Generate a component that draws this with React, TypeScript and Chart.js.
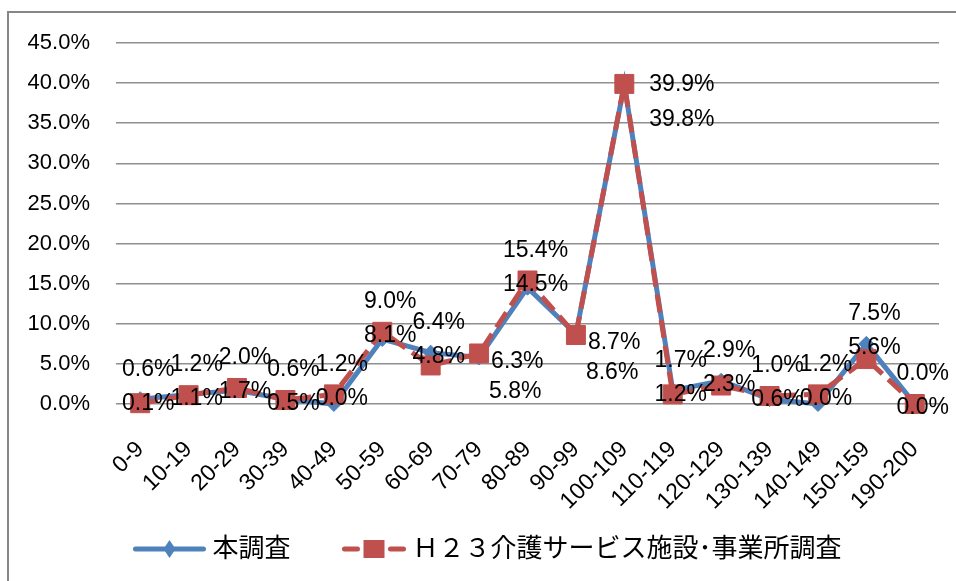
import { useEffect, useRef } from 'react';
import { Chart, registerables } from 'chart.js';

Chart.register(...registerables);

const categories = [
  '0-9', '10-19', '20-29', '30-39', '40-49', '50-59', '60-69', '70-79', '80-89',
  '90-99', '100-109', '110-119', '120-129', '130-139', '140-149', '150-159', '190-200',
];
const surveyValues = [0.6, 1.2, 1.7, 0.6, 0.0, 8.1, 6.4, 5.8, 14.5, 8.7, 39.8, 1.7, 2.9, 0.6, 0.0, 7.5, 0.0];
const h23Values = [0.1, 1.1, 2.0, 0.5, 1.2, 9.0, 4.8, 6.3, 15.4, 8.6, 39.9, 1.2, 2.3, 1.0, 1.2, 5.6, 0.0];
const yTickStep = 5;
const yMax = 45;
const seriesNames = ['本調査', 'Ｈ２３介護サービス施設･事業所調査'];

const BLUE = '#4F81BD';
const RED = '#C0504D';
const FONT = '"Liberation Sans", Arial, sans-serif';
const CJK_FONT = '"Liberation Sans", "Noto Sans CJK JP", sans-serif';

const W = 947;
const H = 568;

const fmt = (v: number) => v.toFixed(1) + '%';

const pairLabelPlugin = {
  id: 'pairLabels',
  afterDatasetsDraw(chart: any) {
    const { ctx } = chart;
    const x = chart.scales.x;
    const y = chart.scales.y;
    ctx.save();
    ctx.font = `23px ${FONT}`;
    ctx.fillStyle = '#000';
    ctx.textBaseline = 'middle';
    const hiOf = (i: number) =>
      i < 0 || i >= categories.length ? 0 : Math.max(surveyValues[i], h23Values[i]);
    categories.forEach((_, i) => {
      const a = surveyValues[i];
      const b = h23Values[i];
      const hi = Math.max(a, b);
      const lo = Math.min(a, b);
      const px = x.getPixelForValue(i);
      const yHi = y.getPixelForValue(hi);
      const prevHi = hiOf(i - 1);
      const nextHi = hiOf(i + 1);
      const peak = hi - prevHi > 10 && hi - nextHi > 10;
      const valley = hi >= 5 && hi < prevHi && hi < nextHi;
      if (peak) {
        ctx.textAlign = 'left';
        ctx.fillText(fmt(hi), px + 25, yHi + 1);
        ctx.fillText(fmt(lo), px + 25, yHi + 36);
      } else if (valley) {
        ctx.textAlign = 'left';
        ctx.fillText(fmt(hi), px + 12, yHi + 8);
        ctx.fillText(fmt(lo), px + 10, yHi + 38);
      } else {
        ctx.textAlign = 'center';
        const upper = yHi - 30;
        ctx.fillText(fmt(hi), px + 8, upper);
        ctx.fillText(fmt(lo), px + 8, upper + 34);
      }
    });
    ctx.restore();
  },
};

const legendPlugin = {
  id: 'lineLegend',
  afterDraw(chart: any) {
    const { ctx, width, height } = chart;
    ctx.save();
    ctx.font = `26px ${CJK_FONT}`;
    ctx.textBaseline = 'middle';
    ctx.textAlign = 'left';
    const w1 = ctx.measureText(seriesNames[0]).width;
    const w2 = ctx.measureText(seriesNames[1]).width;
    const sym1 = 72;
    const sym2 = 63;
    const gapText = 7;
    const gapItem = 52;
    const total = sym1 + gapText + w1 + gapItem + sym2 + gapText + w2;
    const x0 = width / 2 + 5 - total / 2;
    const cy = height - 32;

    // blue symbol
    ctx.strokeStyle = BLUE;
    ctx.fillStyle = BLUE;
    ctx.lineWidth = 5;
    ctx.lineCap = 'round';
    ctx.beginPath();
    ctx.moveTo(x0 + 2, cy);
    ctx.lineTo(x0 + sym1 - 2, cy);
    ctx.stroke();
    const cx1 = x0 + sym1 / 2;
    ctx.beginPath();
    ctx.moveTo(cx1 - 6, cy);
    ctx.lineTo(cx1, cy - 9);
    ctx.lineTo(cx1 + 6, cy);
    ctx.lineTo(cx1, cy + 9);
    ctx.closePath();
    ctx.fill();
    ctx.fillStyle = '#000';
    ctx.fillText(seriesNames[0], x0 + sym1 + gapText, cy + 1);

    // red symbol
    const x1 = x0 + sym1 + gapText + w1 + gapItem;
    ctx.strokeStyle = RED;
    ctx.fillStyle = RED;
    ctx.beginPath();
    ctx.moveTo(x1 + 2, cy);
    ctx.lineTo(x1 + 15, cy);
    ctx.moveTo(x1 + 48, cy);
    ctx.lineTo(x1 + sym2 - 2, cy);
    ctx.stroke();
    ctx.fillRect(x1 + 21, cy - 9, 21, 18);
    ctx.fillStyle = '#000';
    ctx.fillText(seriesNames[1], x1 + sym2 + gapText, cy + 1);
    ctx.restore();
  },
};

export default function App() {
  const canvasRef = useRef<HTMLCanvasElement | null>(null);

  useEffect(() => {
    const canvas = canvasRef.current;
    if (!canvas) return;
    const chart = new Chart(canvas, {
      type: 'line',
      data: {
        labels: categories,
        datasets: [
          {
            label: seriesNames[0],
            data: surveyValues,
            borderColor: BLUE,
            backgroundColor: BLUE,
            borderWidth: 5,
            pointStyle: 'rectRot',
            pointRadius: 7.5,
            pointBorderWidth: 1,
            pointBackgroundColor: BLUE,
            pointBorderColor: BLUE,
            tension: 0,
            clip: false,
            order: 1,
          },
          {
            label: seriesNames[1],
            data: h23Values,
            borderColor: RED,
            backgroundColor: RED,
            borderWidth: 5,
            borderDash: [18, 8],
            pointStyle: 'rect',
            pointRadius: 13.4,
            pointBorderWidth: 1,
            pointBackgroundColor: RED,
            pointBorderColor: RED,
            tension: 0,
            clip: false,
            order: 0,
          },
        ],
      },
      options: {
        responsive: false,
        animation: false,
        events: [],
        layout: { autoPadding: false, padding: { top: 30, right: 17, bottom: 0, left: 0 } },
        plugins: {
          legend: { display: false },
          tooltip: { enabled: false },
        },
        scales: {
          x: {
            type: 'category',
            offset: true,
            grid: { display: false, drawTicks: true, tickLength: 28 },
            border: { display: false },
            ticks: {
              autoSkip: false,
              minRotation: 45,
              maxRotation: 45,
              padding: 4,
              labelOffset: 0,
              color: '#000',
              font: { family: FONT, size: 23 },
            },
            afterFit: (s: any) => {
              s.height = H - 391;
            },
          },
          y: {
            min: 0,
            max: yMax,
            grid: {
              color: '#8f8f8f',
              lineWidth: 1.5,
              drawTicks: true,
              tickLength: 20,
              tickColor: 'rgba(0,0,0,0)',
            },
            border: { display: false },
            ticks: {
              stepSize: yTickStep,
              padding: 6,
              color: '#000',
              font: { family: FONT, size: 22 },
              callback: (v: any) => Number(v).toFixed(1) + '%',
            },
            afterFit: (s: any) => {
              s.width = 107;
            },
          },
        },
      },
      plugins: [pairLabelPlugin, legendPlugin],
    });
    return () => chart.destroy();
  }, []);

  return (
    <div
      style={{
        position: 'fixed',
        left: 7,
        top: 11,
        width: W,
        height: H,
        overflow: 'hidden',
        borderLeft: '2px solid #878787',
        borderTop: '2px solid #878787',
        background: '#fff',
      }}
    >
      <canvas ref={canvasRef} width={W} height={H} style={{ display: 'block', width: W, height: H }} />
    </div>
  );
}
